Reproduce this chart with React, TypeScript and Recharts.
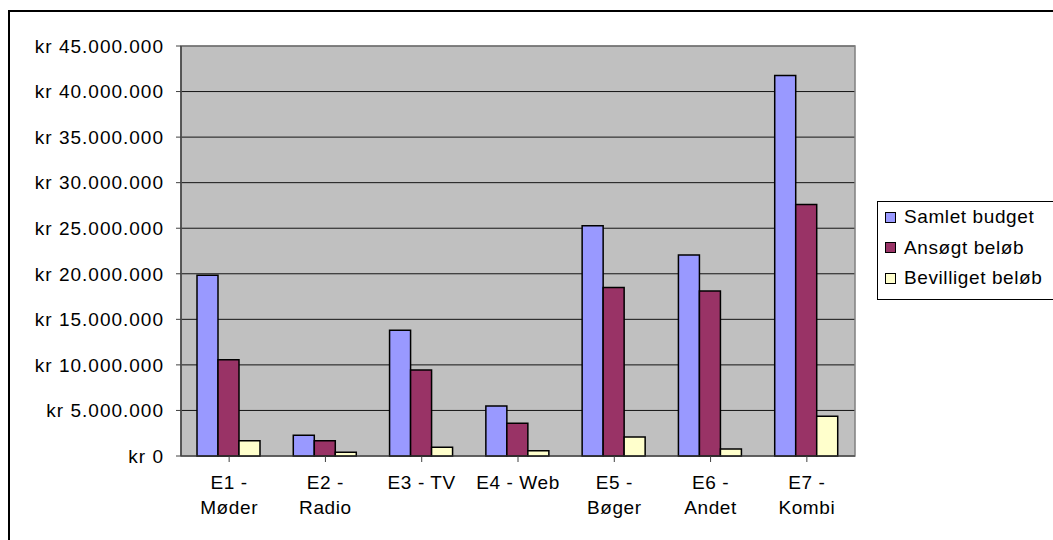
import { Bar, BarChart, CartesianGrid, ReferenceArea, XAxis, YAxis } from "recharts";

const categories = ["E1 - Møder", "E2 - Radio", "E3 - TV", "E4 - Web", "E5 - Bøger", "E6 - Andet", "E7 - Kombi"];
const tickLines = [["E1 -", "Møder"], ["E2 -", "Radio"], ["E3 - TV"], ["E4 - Web"], ["E5 -", "Bøger"], ["E6 -", "Andet"], ["E7 -", "Kombi"]];
const samletBudget = [19830000, 2270000, 13800000, 5490000, 25280000, 22060000, 41750000];
const ansoegtBeloeb = [10570000, 1680000, 9440000, 3590000, 18500000, 18100000, 27600000];
const bevilligetBeloeb = [1680000, 400000, 950000, 580000, 2080000, 770000, 4360000];
const yTicks = [0, 5000000, 10000000, 15000000, 20000000, 25000000, 30000000, 35000000, 40000000, 45000000];

const series = [
  { key: "samlet", name: "Samlet budget", color: "#9999FF" },
  { key: "ansoegt", name: "Ansøgt beløb", color: "#993366" },
  { key: "bevilliget", name: "Bevilliget beløb", color: "#FFFFCC" },
];

const data = categories.map((name, i) => ({
  name,
  samlet: samletBudget[i],
  ansoegt: ansoegtBeloeb[i],
  bevilliget: bevilligetBeloeb[i],
}));

const FONT = "'Liberation Sans', Arial, sans-serif";

const formatKr = (v: number) => "kr " + v.toString().replace(/\B(?=(\d{3})+(?!\d))/g, ".");

const CategoryTick = (props: any) => {
  const { x, y, index } = props;
  const lines = tickLines[index] || [];
  return (
    <g>
      {lines.map((line, i) => (
        <text
          key={i}
          x={x}
          y={y + 25 + i * 25}
          textAnchor="middle"
          fontSize={19}
          fontFamily={FONT}
          letterSpacing={0.6}
          fill="#000"
        >
          {line}
        </text>
      ))}
    </g>
  );
};

const LegendBox = () => (
  <div
    style={{
      position: "absolute",
      left: 877,
      top: 201,
      width: 176,
      height: 97,
      border: "1px solid #000",
      background: "#fff",
      fontFamily: FONT,
      fontSize: 19,
      letterSpacing: 0.6,
    }}
  >
    {series.map((s, i) => (
      <div
        key={s.key}
        style={{ position: "absolute", left: 7, top: 4 + i * 30.5, display: "flex", alignItems: "center", whiteSpace: "nowrap" }}
      >
        <span
          style={{
            display: "inline-block",
            width: 9,
            height: 9,
            background: s.color,
            border: "1.5px solid #000",
            marginRight: 8,
          }}
        />
        <span style={{ lineHeight: "22px" }}>{s.name}</span>
      </div>
    ))}
  </div>
);

export default function App() {
  return (
    <div style={{ position: "absolute", left: 0, top: 0, width: 1053, height: 540, overflow: "hidden", background: "#fff" }}>
      <div
        style={{
          position: "absolute",
          left: 8,
          top: 10,
          width: 1100,
          height: 600,
          border: "2px solid #000",
        }}
      />
      <BarChart
        width={1053}
        height={540}
        data={data}
        margin={{ top: 46, right: 198, bottom: 0, left: 0 }}
        barCategoryGap={16}
        barGap={0}
        style={{ position: "absolute", left: 0, top: 0 }}
      >
        <CartesianGrid vertical={false} stroke="#000" strokeOpacity={0.9} fill="#C0C0C0" fillOpacity={1} />
        <ReferenceArea y1={0} y2={45000000} fill="none" stroke="#808080" strokeWidth={1.5} ifOverflow="visible" />
        <XAxis
          dataKey="name"
          axisLine={{ stroke: "#404040" }}
          tickLine={{ stroke: "#404040" }}
          tickSize={6}
          tick={<CategoryTick />}
          interval={0}
          height={84}
        />
        <YAxis
          type="number"
          domain={[0, 45000000]}
          ticks={yTicks}
          interval={0}
          width={181}
          tickFormatter={formatKr}
          axisLine={{ stroke: "#404040", strokeWidth: 1.5 }}
          tickLine={{ stroke: "#404040" }}
          tickSize={5}
          tickMargin={12}
          tick={{ fill: "#000", fontSize: 19, fontFamily: FONT, letterSpacing: 1 }}
        />
        {series.map((s) => (
          <Bar
            key={s.key}
            dataKey={s.key}
            name={s.name}
            fill={s.color}
            stroke="#000"
            strokeWidth={1.5}
            isAnimationActive={false}
          />
        ))}
      </BarChart>
      <LegendBox />
    </div>
  );
}
